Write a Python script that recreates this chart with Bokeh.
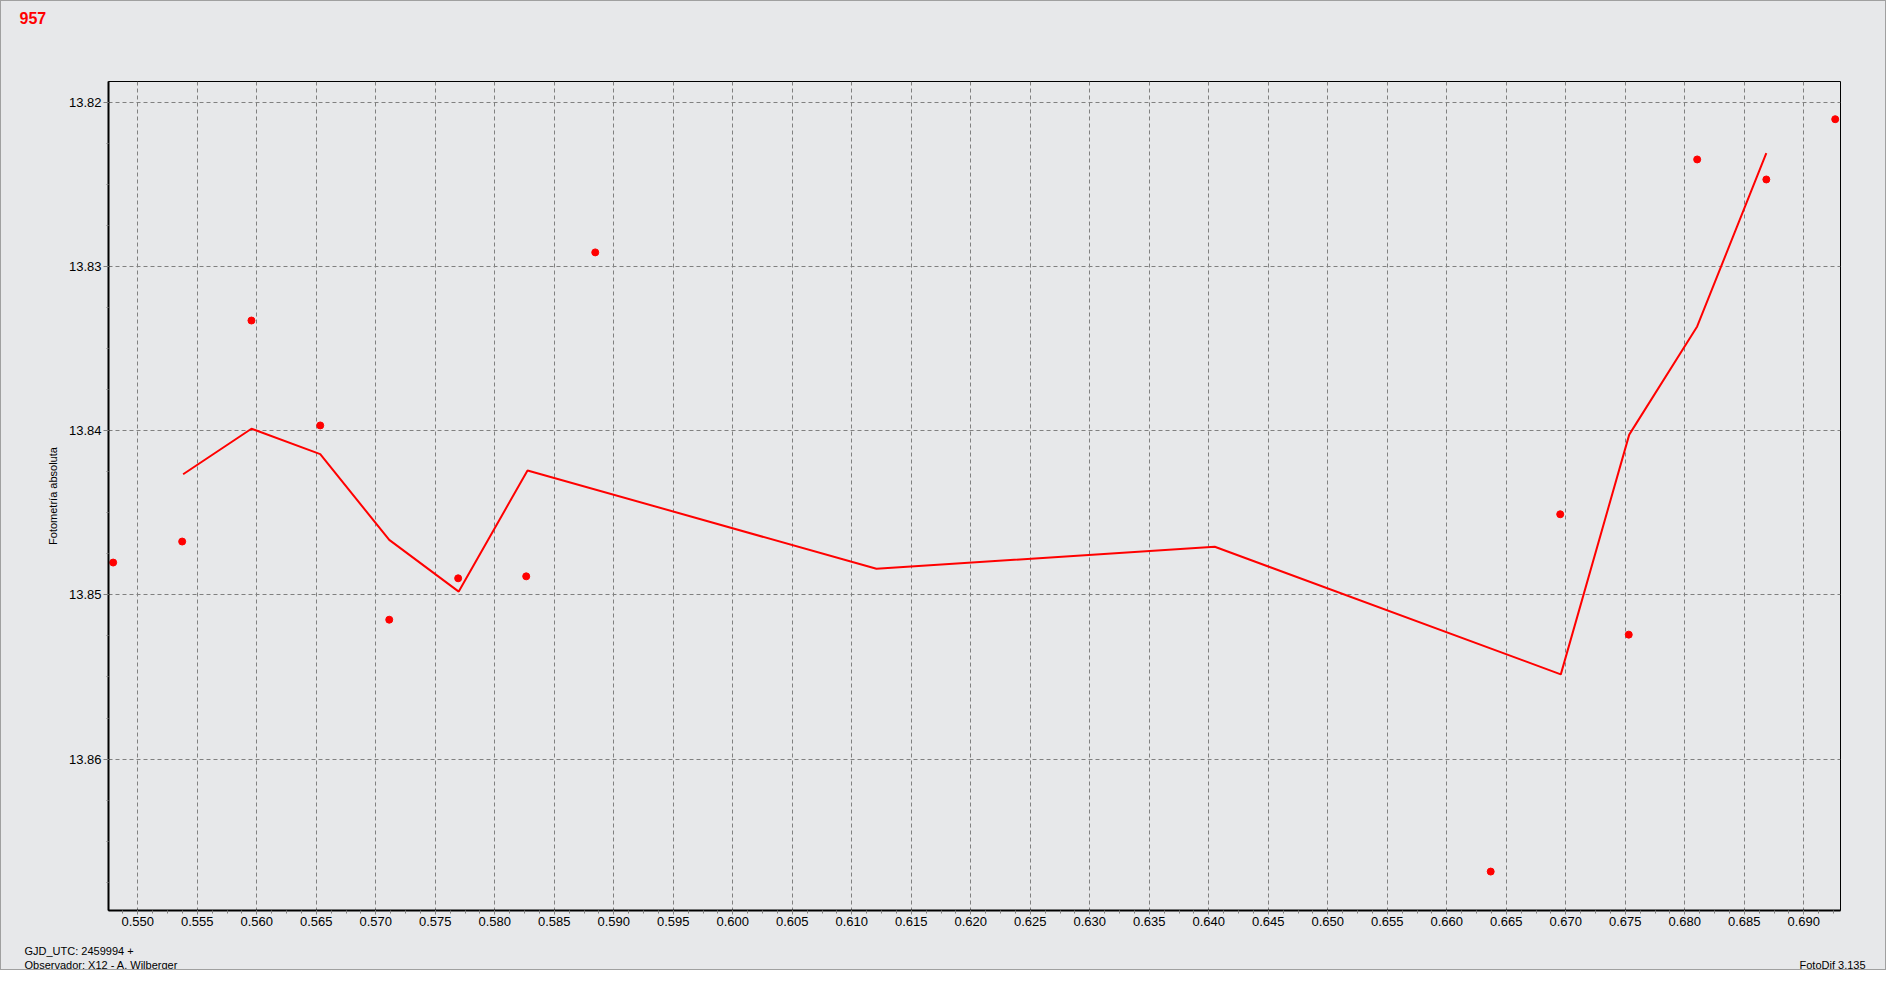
from bokeh.plotting import figure
from bokeh.layouts import column
from bokeh.models import Range1d, SingleIntervalTicker, NumeralTickFormatter, Label
from bokeh.embed import file_html
from bokeh.resources import INLINE

# ---- data ----
x_pts = [0.54793, 0.55373, 0.55955, 0.56533, 0.57113, 0.57692, 0.58264,
         0.58844, 0.66369, 0.66953, 0.67529, 0.68104, 0.68685, 0.69264]
y_pts = [13.84803, 13.84675, 13.83329, 13.83968, 13.85151, 13.84899, 13.84887,
         13.82914, 13.86685, 13.84509, 13.85242, 13.82348, 13.82470, 13.82103]

x_line = [0.55381, 0.55955, 0.56533, 0.57113, 0.57697, 0.58275,
          0.61207, 0.64050, 0.66958, 0.67533, 0.68104, 0.68685]
y_line = [13.84265, 13.83988, 13.84143, 13.84665, 13.84980, 13.84242,
          13.84841, 13.84707, 13.85484, 13.84024, 13.83365, 13.82310]

title_text = "957"
y_label = "Fotometría absoluta"
footer_left = ["GJD_UTC: 2459994 +", "Observador: X12 - A. Wilberger"]
footer_right = "FotoDif 3.135"

BG = "#e7e8ea"
RED = "#ff0000"
GRID = "#808080"
FONT = "Liberation Sans"
W = 1884
H_HEAD, H_MAIN, H_FOOT = 75, 860, 33


def no_align(fig):
    try:
        fig.frame_align = False
    except Exception:
        pass
    return fig


def strip(fig):
    fig.min_border_left = fig.min_border_right = 0
    fig.min_border_top = fig.min_border_bottom = 0
    fig.outline_line_color = None
    fig.background_fill_color = BG
    fig.border_fill_color = BG
    fig.grid.visible = False
    fig.styles = {"background-color": BG}
    return no_align(fig)


# ---- header with the title ----
head = strip(figure(width=W, height=H_HEAD, output_backend="svg", toolbar_location=None,
                    x_axis_type=None, y_axis_type=None,
                    x_range=Range1d(0, 1), y_range=Range1d(0, 1)))
head.add_layout(Label(x=18, y=H_HEAD - 10, x_units="screen", y_units="screen",
                      text=title_text, text_color=RED, text_font=FONT,
                      text_font_size="16px", text_font_style="bold",
                      text_baseline="top", text_align="left"))

# ---- main chart ----
p = figure(width=W, height=H_MAIN, output_backend="svg", toolbar_location=None,
           x_range=Range1d(0.547538, 0.693084),
           y_range=Range1d(13.869221, 13.818733),
           min_border_left=107, min_border_right=45,
           min_border_top=5, min_border_bottom=26,
           background_fill_color=BG, border_fill_color=BG)
no_align(p)
p.styles = {"background-color": BG}

p.outline_line_color = "black"
p.outline_line_width = 1

p.xaxis.ticker = SingleIntervalTicker(interval=0.005, num_minor_ticks=4)
p.yaxis.ticker = SingleIntervalTicker(interval=0.01, num_minor_ticks=4)
p.xaxis.formatter = NumeralTickFormatter(format="0.000")
p.yaxis.formatter = NumeralTickFormatter(format="0.00")

for ax in (p.xaxis, p.yaxis):
    ax.axis_line_color = "black"
    ax.axis_line_width = 2
    ax.major_tick_line_color = GRID
    ax.minor_tick_line_color = GRID
    ax.major_tick_in = 0
    ax.minor_tick_in = 0
    ax.major_label_text_font = FONT
    ax.major_label_text_font_size = "13px"
    ax.major_label_text_color = "black"

p.xaxis.major_tick_out = 4
p.xaxis.minor_tick_out = 3
p.xaxis.major_label_standoff = 2
p.yaxis.major_tick_out = 5
p.yaxis.minor_tick_out = 2
p.yaxis.major_label_standoff = 2

p.yaxis.axis_label = y_label
p.yaxis.axis_label_text_font = FONT
p.yaxis.axis_label_text_font_size = "11px"
p.yaxis.axis_label_text_font_style = "normal"
p.yaxis.axis_label_text_color = "black"
p.yaxis.axis_label_standoff = 7

for g in (p.xgrid, p.ygrid):
    g.grid_line_color = GRID
    g.grid_line_dash = "4 3"
    g.grid_line_width = 1

p.line(x_line, y_line, line_color=RED, line_width=2)
p.scatter(x_pts, y_pts, size=7, fill_color=RED, line_color=RED, line_width=1)

# ---- footer with the notes ----
foot = strip(figure(width=W, height=H_FOOT, output_backend="svg", toolbar_location=None,
                    x_axis_type=None, y_axis_type=None,
                    x_range=Range1d(0, 1), y_range=Range1d(0, 1)))
for txt, xx, yy in ((footer_left[0], 23, 19), (footer_left[1], 23, 5), (footer_right, 1798, 5)):
    foot.add_layout(Label(x=xx, y=yy, x_units="screen", y_units="screen", text=txt,
                          text_color="black", text_font=FONT, text_font_size="11px",
                          text_baseline="alphabetic", text_align="left"))

layout = column(head, p, foot, spacing=0)
layout.styles = {"border": "1px solid #a0a0a0", "background-color": BG}

open("out.html", "w").write(file_html(layout, INLINE))
